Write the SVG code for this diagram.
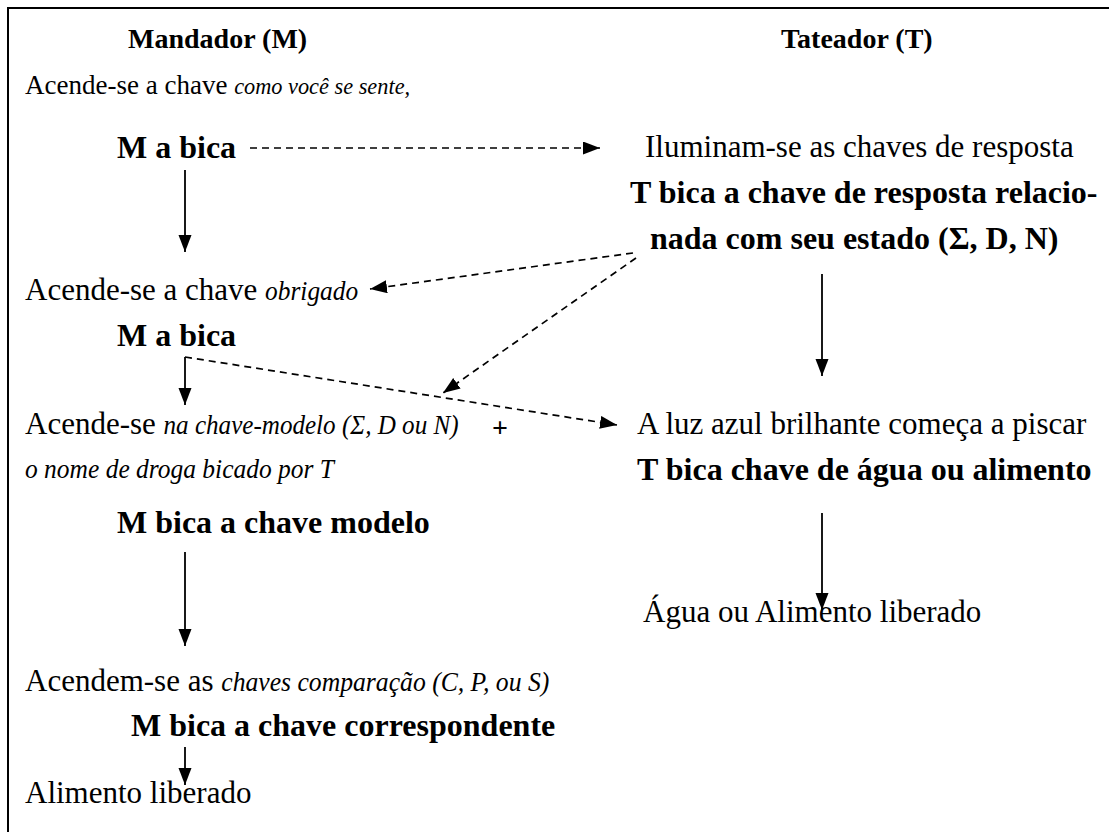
<svg xmlns="http://www.w3.org/2000/svg" width="1109" height="832" viewBox="0 0 1109 832">
<style>
text{font-family:"Liberation Serif","Times New Roman",serif;fill:#000}
.r{font-size:31px}
.r1{font-size:27px}
.b{font-size:32px;font-weight:bold}
.h{font-size:28px;font-weight:bold}
.i{font-style:italic;font-size:27px}
.i1{font-style:italic;font-size:24px}
.s{stroke:#000;stroke-width:1.8;fill:none}
.d{stroke:#000;stroke-width:1.7;fill:none;stroke-dasharray:7 5}
</style>
<defs>
<marker id="ah" markerUnits="userSpaceOnUse" markerWidth="18" markerHeight="14" refX="17" refY="6.5" orient="auto">
<path d="M0,0 L17,6.5 L0,13 z" fill="#000"/>
</marker>
</defs>
<rect width="1109" height="832" fill="#fff"/>
<path d="M8,832 V8 H1109" stroke="#000" stroke-width="2" fill="none"/>
<g id="hdrM"><text class="h" x="128" y="48">Mandador (M)</text></g>
<g id="hdrT"><text class="h" x="781" y="48">Tateador (T)</text></g>
<g id="m1"><text class="r1" x="25" y="94">Acende-se a chave <tspan class="i1" textLength="176" lengthAdjust="spacingAndGlyphs">como você se sente,</tspan></text></g>
<g id="m2"><text class="b" x="117" y="158">M a bica</text></g>
<g id="t1"><text class="r" x="645" y="157">Iluminam-se as chaves de resposta</text></g>
<g id="t2"><text class="b" x="630" y="203">T bica a chave de resposta relacio-</text><text class="b" x="650" y="249">nada com seu estado (Σ, D, N)</text></g>
<g id="m3"><text class="r" x="25" y="300">Acende-se a chave <tspan class="i" textLength="93" lengthAdjust="spacingAndGlyphs">obrigado</tspan></text></g>
<g id="m4"><text class="b" x="117" y="346">M a bica</text></g>
<g id="m5"><text class="r" x="25" y="434">Acende-se <tspan class="i" textLength="295" lengthAdjust="spacingAndGlyphs">na chave-modelo (Σ, D ou N)</tspan></text><text class="i" x="25" y="478" textLength="309" lengthAdjust="spacingAndGlyphs">o nome de droga bicado por T</text></g>
<g id="plus"><text class="h" x="500" y="437" text-anchor="middle">+</text></g>
<g id="t3"><text class="r" x="637" y="434">A luz azul brilhante começa a piscar</text></g>
<g id="t4"><text class="b" x="637" y="480">T bica chave de água ou alimento</text></g>
<g id="m6"><text class="b" x="117" y="533">M bica a chave modelo</text></g>
<g id="t5"><text class="r" x="643" y="622">Água ou Alimento liberado</text></g>
<g id="m7"><text class="r" x="25" y="691">Acendem-se as <tspan class="i" textLength="328" lengthAdjust="spacingAndGlyphs">chaves comparação (C, P, ou S)</tspan></text></g>
<g id="m8"><text class="b" x="131" y="736">M bica a chave correspondente</text></g>
<g id="m9"><text class="r" x="25" y="803">Alimento liberado</text></g>
<g id="connectors">
<line class="d" x1="250" y1="148" x2="600" y2="148" marker-end="url(#ah)"/>
<line class="s" x1="185" y1="170" x2="185" y2="252" marker-end="url(#ah)"/>
<line class="d" x1="633" y1="253" x2="370" y2="289" marker-end="url(#ah)"/>
<line class="d" x1="636" y1="258" x2="443" y2="393" marker-end="url(#ah)"/>
<line class="s" x1="185" y1="357" x2="185" y2="405" marker-end="url(#ah)"/>
<line class="d" x1="185" y1="357" x2="617" y2="425" marker-end="url(#ah)"/>
<line class="s" x1="822" y1="274" x2="822" y2="376" marker-end="url(#ah)"/>
<line class="s" x1="822" y1="513" x2="822" y2="610" marker-end="url(#ah)"/>
<line class="s" x1="185" y1="552" x2="185" y2="646" marker-end="url(#ah)"/>
<line class="s" x1="185" y1="747" x2="185" y2="785" marker-end="url(#ah)"/>
</g>
</svg>
